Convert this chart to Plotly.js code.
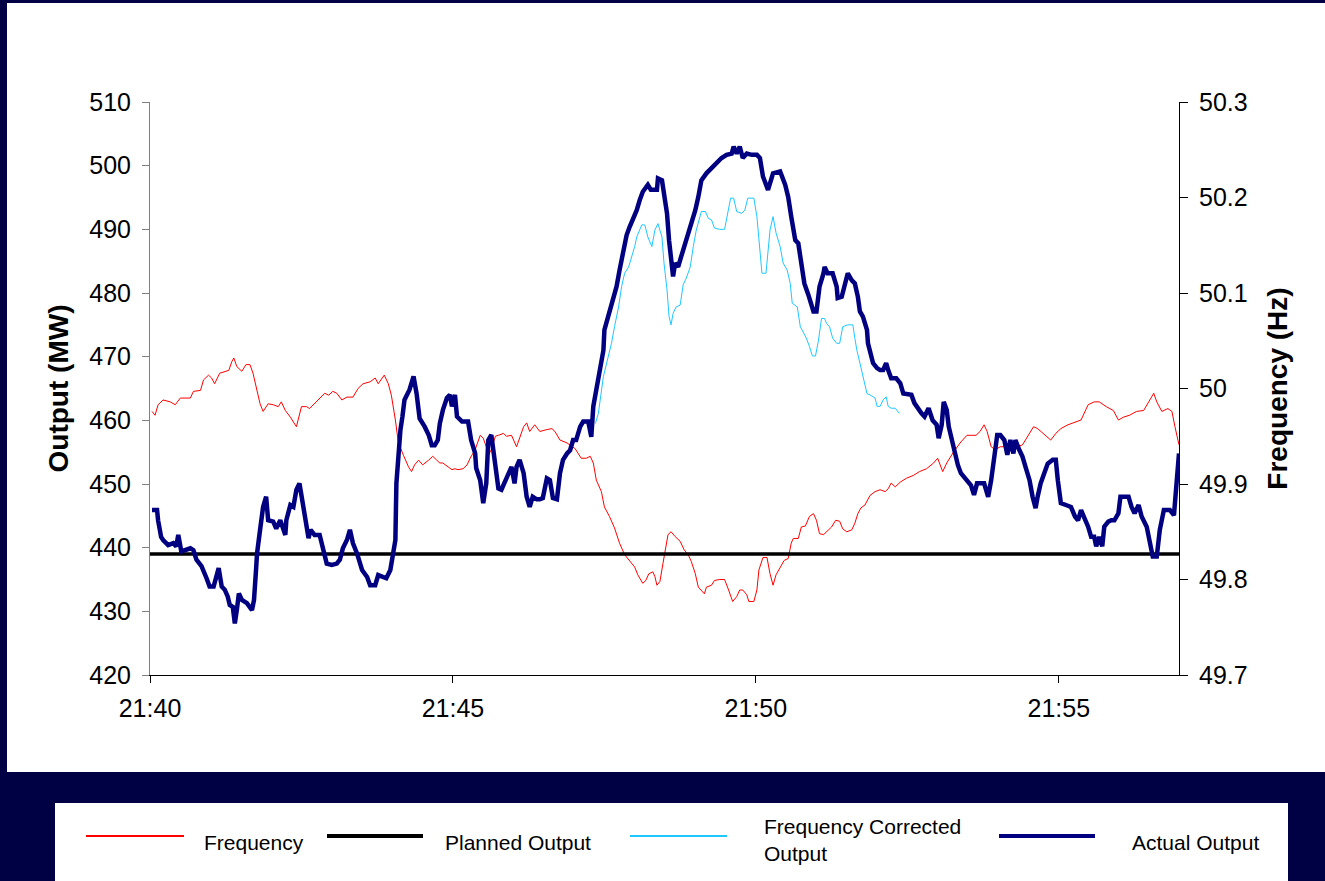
<!DOCTYPE html>
<html>
<head>
<meta charset="utf-8">
<script src="https://cdn.plot.ly/plotly-3.0.1.min.js"></script>
<style>
html,body{margin:0;padding:0;background:#000044;}
#chart{width:1325px;height:881px;}
</style>
</head>
<body>
<div id="chart"></div>
<script>
// ---- Data (seconds after 21:40:00) ----
const seriesNames = ['Frequency', 'Planned Output', 'Frequency Corrected Output', 'Actual Output'];

const actualSec = [2,7,8,11,13,18,23,26,28,31,40,43,46,51,56,59,63,68,71,74,77,79,82,84,86,88,91,96,101,103,105,106,109,112,115,117,122,125,129,134,135,139,142,145,148,150,153,157,159,163,168,172,175,180,185,188,191,195,198,201,205,210,215,218,223,226,234,238,240,243,244,246,248,250,252,257,261,264,267,272,276,279,282,285,287,290,294,297,299,302,304,309,315,318,322,323,327,330,333,335,338,340,343,345,348,351,355,358,361,363,366,370,373,376,379,383,386,389,393,396,399,403,406,409,413,416,419,422,426,429,434,437,439,443,447,449,450,455,459,462,465,469,472,475,478,482,485,488,493,496,502,503,507,509,512,514,516,518,520,523,526,530,533,536,540,543,546,551,556,561,566,571,576,578,581,584,587,591,596,601,604,607,612,617,624,629,632,635,639,642,645,648,652,655,657,660,663,667,668,671,676,680,681,685,688,691,695,698,701,703,706,710,711,714,716,720,723,726,729,731,734,739,743,746,751,754,757,761,764,767,771,775,779,781,784,786,789,791,794,798,800,803,808,813,816,819,826,830,833,836,839,842,846,849,852,855,857,861,864,867,871,874,877,879,882,886,889,894,897,899,902,907,912,916,919,922,925,929,932,935,937,940,943,945,949,952,955,959,961,969,972,975,979,982,987,990,993,997,999,1000,1004,1010,1014,1016,1019];
const actualMW = [445.9,445.9,444.3,441.7,441.2,440.4,440.7,440.2,442.0,439.4,439.9,439.6,438.1,437.1,435.2,433.9,433.9,436.8,433.9,433.4,432.3,431.0,430.7,428.1,430.2,432.8,431.8,431.3,430.2,431.8,436.5,439.1,442.8,446.4,448.0,444.3,444.1,443.0,444.3,442.0,444.3,446.7,446.4,449.1,450.1,448.0,444.9,441.5,442.8,442.0,442.0,439.6,437.5,437.3,437.5,438.1,439.9,441.2,442.8,440.7,439.1,436.5,435.4,434.1,434.1,435.7,435.2,436.5,438.6,441.2,450.1,455.0,458.5,460.6,463.2,464.8,466.9,464.2,460.3,459.0,457.7,456.1,456.1,456.9,459.5,461.6,463.5,464.0,462.2,464.0,460.6,459.8,459.8,456.9,454.8,452.5,450.6,447.0,450.1,456.9,457.7,455.3,452.2,449.3,449.1,450.1,451.7,452.7,450.1,452.7,453.8,451.7,448.0,446.4,448.0,447.6,447.6,447.8,450.9,450.6,447.8,447.6,451.7,453.8,454.8,455.3,456.9,456.9,459.0,459.8,459.8,457.4,462.2,465.8,469.0,471.0,474.2,476.8,478.9,481.0,483.6,487.3,489.1,490.4,491.5,493.0,494.6,495.9,497.0,496.2,496.2,498.0,497.7,495.6,492.5,488.3,485.2,482.6,484.7,484.1,485.7,487.8,488.8,490.9,493.0,495.1,497.7,498.8,499.6,500.4,501.2,501.7,501.9,503.0,501.9,503.0,501.2,501.9,501.7,501.7,501.2,498.3,496.2,498.8,499.1,497.0,495.1,492.0,488.3,487.8,484.1,481.5,479.7,478.4,477.1,477.1,481.0,483.1,484.1,483.1,483.1,481.0,479.2,479.4,481.3,483.1,482.0,481.5,479.4,477.1,476.3,474.2,472.1,470.5,469.0,468.2,467.9,467.9,469.0,467.9,466.6,466.6,465.8,464.2,464.0,464.0,462.7,461.6,461.1,460.6,461.9,460.0,459.3,457.2,459.3,462.9,461.6,459.0,456.9,454.8,453.0,451.7,450.6,449.8,448.3,450.1,450.1,448.0,450.6,454.0,457.7,457.7,456.9,454.6,456.9,454.8,456.9,455.3,454.3,452.7,450.6,448.0,446.2,448.0,450.1,451.9,453.2,453.8,453.8,450.6,447.0,446.7,446.4,444.9,444.3,445.9,444.9,443.3,441.7,441.7,440.2,441.7,440.2,443.3,444.1,444.3,444.3,445.4,448.0,448.0,446.4,445.4,446.7,444.9,443.3,441.2,438.6,438.6,441.2,442.8,445.9,445.9,445.1,449.1,454.8];

const freqSec = [2,5,8,13,20,25,30,40,43,50,53,58,61,64,69,78,81,83,86,91,95,99,102,106,109,112,117,122,127,130,134,139,145,150,155,158,165,173,177,181,185,190,195,201,206,211,218,223,226,232,236,239,243,246,251,256,259,262,266,270,276,280,284,287,290,295,299,302,305,310,314,317,322,327,330,333,335,338,342,345,350,353,358,363,366,370,373,376,381,386,393,398,401,406,413,421,427,432,436,439,442,447,450,455,460,465,470,475,480,483,488,491,494,498,500,502,505,508,511,513,516,520,525,529,533,536,540,543,549,551,556,559,564,569,573,577,581,584,587,591,593,598,601,603,607,611,614,617,620,624,628,632,635,637,642,645,649,653,657,660,663,667,670,675,679,683,686,690,695,698,701,704,708,713,718,723,728,731,734,738,743,749,756,762,769,776,780,785,789,796,803,809,818,822,826,829,833,837,842,849,854,859,864,869,875,879,884,892,897,902,909,916,922,929,935,940,947,954,959,964,970,977,984,989,994,997,1002,1008,1012,1015,1019];
const freqHz = [49.976,49.972,49.983,49.988,49.986,49.983,49.990,49.990,49.997,49.998,50.009,50.014,50.011,50.005,50.016,50.019,50.028,50.032,50.023,50.018,50.025,50.025,50.016,49.998,49.984,49.976,49.984,49.983,49.981,49.986,49.977,49.970,49.960,49.981,49.981,49.979,49.986,49.995,49.993,49.997,49.995,49.988,49.991,49.991,50.000,50.005,50.007,50.011,50.005,50.014,50.005,49.993,49.967,49.943,49.930,49.918,49.913,49.920,49.925,49.920,49.925,49.929,49.925,49.922,49.922,49.918,49.915,49.916,49.915,49.916,49.920,49.927,49.936,49.951,49.948,49.939,49.930,49.936,49.950,49.951,49.953,49.950,49.951,49.939,49.948,49.960,49.964,49.955,49.962,49.955,49.957,49.958,49.955,49.946,49.943,49.937,49.927,49.927,49.929,49.922,49.904,49.892,49.876,49.866,49.854,49.838,49.826,49.820,49.813,49.805,49.796,49.799,49.806,49.808,49.803,49.794,49.798,49.817,49.834,49.847,49.850,49.845,49.840,49.831,49.826,49.819,49.806,49.792,49.785,49.792,49.794,49.799,49.800,49.800,49.789,49.777,49.782,49.789,49.789,49.784,49.777,49.777,49.789,49.810,49.823,49.823,49.806,49.794,49.805,49.813,49.820,49.822,49.838,49.843,49.843,49.855,49.856,49.866,49.869,49.862,49.848,49.847,49.850,49.855,49.862,49.861,49.853,49.850,49.852,49.859,49.869,49.875,49.878,49.888,49.892,49.894,49.892,49.895,49.901,49.897,49.902,49.906,49.909,49.913,49.916,49.922,49.927,49.913,49.922,49.934,49.944,49.951,49.951,49.955,49.962,49.955,49.939,49.936,49.939,49.939,49.944,49.939,49.941,49.950,49.960,49.958,49.953,49.946,49.953,49.958,49.962,49.965,49.967,49.983,49.986,49.986,49.981,49.977,49.967,49.970,49.972,49.976,49.977,49.986,49.995,49.986,49.976,49.979,49.976,49.960,49.941];

const correctedSec = [441,444,449,454,457,460,464,467,470,474,477,480,482,487,490,493,497,500,503,507,509,512,514,516,518,521,525,528,531,535,538,541,546,550,553,556,559,564,569,573,575,578,581,586,589,592,598,601,603,606,610,612,614,617,620,624,627,631,634,636,641,644,647,650,653,656,659,662,665,668,670,673,676,680,683,686,691,696,698,700,703,706,710,713,718,720,723,726,729,731,734,738,742];
const correctedMW = [459.5,461.1,466.9,470.0,472.1,474.7,477.8,481.0,483.1,484.1,485.7,487.3,488.8,490.7,490.7,488.8,487.3,489.9,490.9,488.8,484.7,480.5,476.3,475.0,476.8,477.8,478.1,481.3,482.3,484.1,487.3,489.9,492.8,492.8,491.7,491.5,490.2,490.0,490.0,493.0,494.9,494.9,492.8,492.5,493.0,494.9,494.9,492.0,488.3,483.1,483.1,486.8,489.9,492.0,489.4,487.3,484.7,483.6,481.5,478.4,477.8,474.7,473.7,472.9,471.6,470.1,470.1,472.6,476.0,476.0,475.2,474.7,472.9,472.1,472.1,474.7,475.0,475.0,472.9,471.0,469.0,466.9,464.2,464.0,463.5,462.2,462.2,463.2,463.7,462.2,461.9,461.9,461.1];

const plannedSec = [0, 1019];
const plannedMW = [439, 439];

const xTickLabelFormat = '%H:%M';

// ---- helpers ----
function toTime(s) {
  const base = Date.UTC(2000, 0, 1, 21, 40, 0);
  return new Date(base + s * 1000).toISOString().replace('T', ' ').slice(0, 19);
}
const ML = 150, MT = 102, PW = 1029, PH = 573, W = 1325, H = 881;
const px = x => (x - ML) / PW;
const py = y => (MT + PH - y) / PH;
const NAVY_BG = '#000044';
const FONT = 'Liberation Sans, Arial, Helvetica, sans-serif';

const traces = [
  { name: seriesNames[0], x: freqSec.map(toTime), y: freqHz, yaxis: 'y', type: 'scatter', mode: 'lines',
    line: { color: '#FF0000', width: 1 }, hoverinfo: 'skip' },
  { name: seriesNames[1], x: plannedSec.map(toTime), y: plannedMW, yaxis: 'y2', type: 'scatter', mode: 'lines',
    line: { color: '#000000', width: 3.5 }, hoverinfo: 'skip' },
  { name: seriesNames[2], x: correctedSec.map(toTime), y: correctedMW, yaxis: 'y2', type: 'scatter', mode: 'lines',
    line: { color: '#1EC8FF', width: 1 }, hoverinfo: 'skip' },
  { name: seriesNames[3], x: actualSec.map(toTime), y: actualMW, yaxis: 'y2', type: 'scatter', mode: 'lines',
    line: { color: '#000080', width: 4.5 }, hoverinfo: 'skip' }
];

const legendItems = [
  { color: '#FF0000', width: 2, x0: 86, x1: 184, tx: 202, ty: 843 },
  { color: '#000000', width: 4, x0: 327, x1: 423, tx: 443, ty: 843 },
  { color: '#1EC8FF', width: 2, x0: 630, x1: 727, tx: 762, ty: 840 },
  { color: '#000080', width: 4, x0: 999, x1: 1095, tx: 1130, ty: 843 }
];
const legendLabels = ['Frequency', 'Planned Output', 'Frequency Corrected<br>Output', 'Actual Output'];

const shapes = [
  { type: 'rect', xref: 'paper', yref: 'paper', x0: px(7), x1: px(1335), y0: py(772), y1: py(3),
    fillcolor: '#FFFFFF', line: { width: 0 }, layer: 'below' },
  { type: 'rect', xref: 'paper', yref: 'paper', x0: px(55), x1: px(1288), y0: py(895), y1: py(803),
    fillcolor: '#FFFFFF', line: { width: 0 }, layer: 'below' }
];
const annotations = [];
legendItems.forEach((it, i) => {
  shapes.push({ type: 'line', xref: 'paper', yref: 'paper', x0: px(it.x0), x1: px(it.x1), y0: py(836), y1: py(836),
    line: { color: it.color, width: it.width } });
  annotations.push({ xref: 'paper', yref: 'paper', x: px(it.tx), y: py(it.ty), xanchor: 'left', yanchor: 'middle',
    showarrow: false, align: 'left', text: legendLabels[i], font: { family: FONT, size: 21, color: '#000' } });
});

const layout = {
  width: W, height: H,
  margin: { l: ML, r: W - ML - PW, t: MT, b: H - MT - PH, pad: 0 },
  paper_bgcolor: NAVY_BG, plot_bgcolor: '#FFFFFF',
  showlegend: false,
  font: { family: FONT, size: 25, color: '#000' },
  xaxis: {
    type: 'date', range: [toTime(0), toTime(1019)], tick0: toTime(0), dtick: 300000,
    tickformat: xTickLabelFormat, ticks: 'outside', ticklen: 7, tickcolor: '#000', tickwidth: 1,
    ticklabelstandoff: 4,
    showline: true, linecolor: '#000', linewidth: 1, showgrid: false, zeroline: false,
    tickfont: { family: FONT, size: 25, color: '#000' }, anchor: 'y', fixedrange: true
  },
  yaxis: {
    side: 'right', range: [49.7, 50.3], tick0: 49.7, dtick: 0.1,
    ticks: 'outside', ticklen: 8, tickcolor: '#000', showline: true, linecolor: '#000', linewidth: 1,
    ticklabelstandoff: 6,
    showgrid: false, zeroline: false, tickfont: { family: FONT, size: 25, color: '#000' },
    title: { text: 'Frequency (Hz)', font: { family: FONT, size: 28, color: '#000', weight: 'bold' }, standoff: 20 },
    fixedrange: true
  },
  yaxis2: {
    overlaying: 'y', side: 'left', range: [420, 510], tick0: 420, dtick: 10,
    ticks: 'outside', ticklen: 7, tickcolor: '#808080', showline: true, linecolor: '#808080', linewidth: 1,
    ticklabelstandoff: 6,
    showgrid: false, zeroline: false, tickfont: { family: FONT, size: 25, color: '#000' },
    title: { text: 'Output (MW)', font: { family: FONT, size: 28, color: '#000', weight: 'bold' }, standoff: 12 },
    fixedrange: true
  },
  shapes: shapes,
  annotations: annotations
};

Plotly.newPlot('chart', traces, layout, { staticPlot: true, displayModeBar: false });
</script>
</body>
</html>
